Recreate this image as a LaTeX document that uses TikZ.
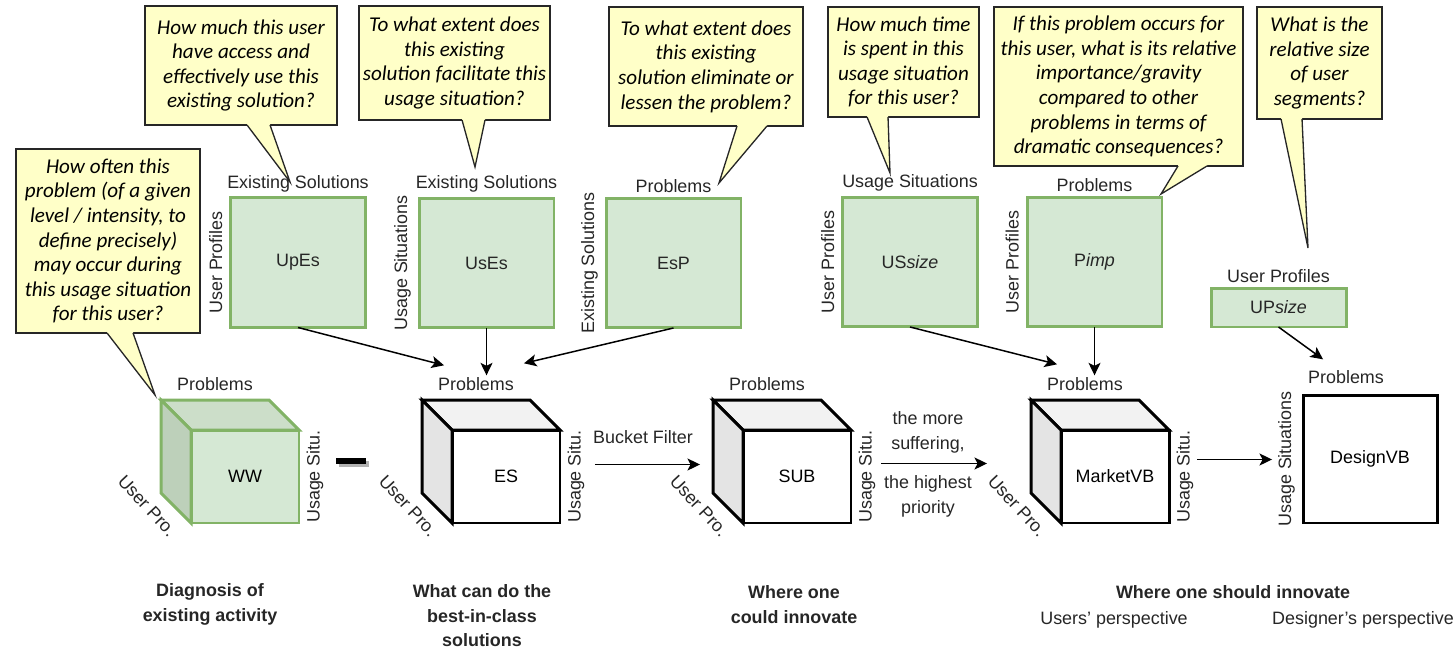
\documentclass[tikz,border=0pt]{standalone}
\usepackage{fontspec}
\setmainfont{Liberation Sans}
\newfontfamily\notefont{Carlito}
\usetikzlibrary{positioning,arrows.meta,calc,shadows}
\definecolor{notefill}{RGB}{255,255,200}
\definecolor{matfill}{RGB}{213,232,212}
\definecolor{matline}{RGB}{130,179,102}
\definecolor{greentop}{RGB}{204,222,201}
\definecolor{greenside}{RGB}{189,208,186}
\definecolor{greytop}{RGB}{242,242,242}
\definecolor{greyside}{RGB}{228,228,228}

% top and left faces of a cube, behind its front node
\newcommand{\cubefaces}[3]{%
  \filldraw[cubeline, draw=#3, fill=#2top] (#1.north west) -- ++(-30,-30) -- ++(108,0) -- (#1.north east) -- cycle;
  \filldraw[cubeline, draw=#3, fill=#2side] (#1.north west) -- ++(-30,-30) -- ++(0,93) -- (#1.south west) -- cycle;}
% tail of a question note: node, left and right foot, tip
\newcommand{\notetail}[4]{%
  \fill[notefill] ($(#1.south west)+(#2,-1.5)$) -- ($(#1.south west)+(#2,0)$) -- (#4) -- ($(#1.south west)+(#3,0)$) -- ($(#1.south west)+(#3,-1.5)$) -- cycle;
  \draw[tailline] ($(#1.south west)+(#2,0)$) -- (#4) -- ($(#1.south west)+(#3,0)$);}

\begin{document}
\begin{tikzpicture}[x=0.02cm, y=-0.02cm,
  lbl/.style={font=\fontsize{10.2}{13.9}\selectfont, text=black!85, inner sep=1pt},
  sidelbl/.style={lbl, rotate=90, anchor=south},
  stage/.style={lbl, font=\bfseries\fontsize{10.2}{13.9}\selectfont, align=center},
  matbox/.style={draw=matline, fill=matfill, line width=1.7pt, outer sep=0pt,
                 minimum width=2.7cm, minimum height=2.6cm, lbl},
  cubefront/.style={draw, fill=white, line width=1.7pt, outer sep=0pt,
                    minimum width=2.16cm, minimum height=1.86cm, lbl, text=black},
  cubeline/.style={line width=1.7pt, line join=miter},
  note/.style={draw=black!85, fill=notefill, line width=0.75pt, outer sep=0pt,
               align=center, inner sep=2pt,
               font=\notefont\itshape\fontsize{12}{14}\selectfont},
  tailline/.style={draw=black!85, line width=0.75pt, line join=miter},
  arr/.style={-{Stealth[length=0.25cm, width=0.24cm, inset=0.06cm]}, line width=0.85pt}
]
\useasboundingbox (0,0) rectangle (1456,649);

% questions
\node[note, minimum width=3.84cm, minimum height=2.38cm] (qUpEs) at (241,65.5)
  {How much this user\\have access and\\effectively use this\\existing solution?};
\node[note, minimum width=3.82cm, minimum height=2.28cm] (qUsEs) at (454.5,63)
  {To what extent does\\this existing\\solution facilitate this\\usage situation?};
\node[note, minimum width=3.88cm, minimum height=2.38cm] (qEsP) at (706,66.5)
  {To what extent does\\this existing\\solution eliminate or\\lessen the problem?};
\node[note, minimum width=3.02cm, minimum height=2.2cm] (qUSsize) at (903.5,62)
  {How much time\\is spent in this\\usage situation\\for this user?};
\node[note, minimum width=4.98cm, minimum height=3.18cm] (qPimp) at (1118.5,86.5)
  {If this problem occurs for\\this user, what is its relative\\importance/gravity\\compared to other\\problems in terms of\\dramatic consequences?};
\node[note, minimum width=2.5cm, minimum height=2.24cm] (qUPsize) at (1319.5,63)
  {What is the\\relative size\\of user\\segments?};
\node[note, minimum width=3.68cm, minimum height=3.68cm] (qWW) at (108,241)
  {How often this\\problem (of a given\\level / intensity, to\\define precisely)\\may occur during\\this usage situation\\for this user?};
\coordinate (tUpEs) at (290,182);
\coordinate (tUsEs) at (475,167);
\coordinate (tEsP) at (719,183);
\coordinate (tUSsize) at (890,173);
\coordinate (tPimp) at (1161,194);
\coordinate (tUPsize) at (1308,248);
\coordinate (tWW) at (155,395);
\notetail{qUpEs}{102}{125}{tUpEs}
\notetail{qUsEs}{103}{126}{tUsEs}
\notetail{qEsP}{128}{158}{tEsP}
\notetail{qUSsize}{39}{60}{tUSsize}
\notetail{qPimp}{184}{213}{tPimp}
\notetail{qUPsize}{24}{45}{tUPsize}
\notetail{qWW}{91}{117}{tWW}

% two-way tables
\node[matbox] (upes) at (298,262.5) {UpEs};
\node[lbl, above=2pt of upes] (upesTop) {Existing Solutions};
\node[sidelbl] (upesSide) at ($(upes.west)+(-6,0)$) {User Profiles};
\node[matbox] (uses) at (486.5,263) {UsEs};
\node[lbl, above=2pt of uses] (usesTop) {Existing Solutions};
\node[sidelbl] (usesSide) at ($(uses.west)+(-6,0)$) {Usage Situations};
\node[matbox] (esp) at (673.5,263) {EsP};
\node[lbl, above=2pt of esp] (espTop) {Problems};
\node[sidelbl] (espSide) at ($(esp.west)+(-6,0)$) {Existing Solutions};
\node[matbox] (ussize) at (910,262) {US\textit{size}};
\node[lbl, above=2pt of ussize] (ussizeTop) {Usage Situations};
\node[sidelbl] (ussizeSide) at ($(ussize.west)+(-6,0)$) {User Profiles};
\node[matbox] (pimp) at (1094.5,262) {P\textit{imp}};
\node[lbl, above=2pt of pimp] (pimpTop) {Problems};
\node[sidelbl] (pimpSide) at ($(pimp.west)+(-6,0)$) {User Profiles};
\node[matbox, minimum height=0.78cm] (upsize) at (1278.5,307.5) {UP\textit{size}};
\node[lbl, above=2pt of upsize] (upsizeTop) {User Profiles};

% cubes
\node[cubefront, draw=matline, fill=matfill] (ww) at (245,476.5) {WW};
\cubefaces{ww}{green}{matline}
\node[cubefront] (es) at (506,476.5) {ES};
\cubefaces{es}{grey}{black}
\node[cubefront] (sub) at (797,476.5) {SUB};
\cubefaces{sub}{grey}{black}
\node[cubefront] (mv) at (1115,476.5) {MarketVB};
\cubefaces{mv}{grey}{black}
\node[cubefront, minimum width=2.68cm, minimum height=2.56cm] (design) at (1370,459) {DesignVB};

\node[lbl] (wwProb) at ($(ww.north)+(-30,-46)$) {Problems};
\node[lbl] (esProb) at ($(es.north)+(-30,-46)$) {Problems};
\node[lbl] (subProb) at ($(sub.north)+(-30,-46)$) {Problems};
\node[lbl] (mvProb) at ($(mv.north)+(-30,-46)$) {Problems};
\node[lbl] (designProb) at ($(design.north)+(-24,-18)$) {Problems};
\node[lbl, rotate=90] (wwUs) at ($(ww.east)+(16,0)$) {Usage Situ.};
\node[lbl, rotate=90] (esUs) at ($(es.east)+(16,0)$) {Usage Situ.};
\node[lbl, rotate=90] (subUs) at ($(sub.east)+(16,0)$) {Usage Situ.};
\node[lbl, rotate=90] (mvUs) at ($(mv.east)+(16,0)$) {Usage Situ.};
\node[sidelbl] (designUs) at ($(design.west)+(-6,0)$) {Usage Situations};
\node[lbl, rotate=-47] (wwUp) at ($(ww.south west)+(-44,-17)$) {User Pro.};
\node[lbl, rotate=-47] (esUp) at ($(es.south west)+(-44,-17)$) {User Pro.};
\node[lbl, rotate=-47] (subUp) at ($(sub.south west)+(-44,-17)$) {User Pro.};
\node[lbl, rotate=-47] (mvUp) at ($(mv.south west)+(-44,-17)$) {User Pro.};

\node[fill=black, minimum width=0.6cm, minimum height=0.12cm, inner sep=0pt,
      drop shadow={shadow xshift=0.06cm, shadow yshift=-0.06cm, fill=black!30, opacity=1}]
  (minus) at (351,461) {};

% flows
\draw[arr] (upes.south) -- ($(esProb.north west)+(8,-10)$);
\draw[arr] (uses.south) -- (uses.south |- esProb.north);
\draw[arr] (esp.south) -- ($(esProb.north east)+(8,-12)$);
\draw[arr] (ussize.south) -- ($(mvProb.north west)+(12,-11)$);
\draw[arr] (pimp.south) -- (pimp.south |- mvProb.north);
\draw[arr] (upsize.south) -- ($(designProb.north west)+(17,-9)$);
\draw[arr] ($(es.east)+(35,-12)$) -- ($(sub.west)+(-43,-12)$);
\draw[arr] ($(sub.east)+(30,-13)$) -- ($(mv.west)+(-74,-13)$);
\draw[arr] ($(mv.east)+(28,-17)$) -- ($(design.west)+(-31,0.5)$);
\node[lbl] (bucket) at (643,437) {Bucket Filter};
\node[lbl, align=center] (suffer) at (928,432.5) {the more\\suffering,};
\node[lbl, align=center] (priority) at (928,496.5) {the highest\\priority};

% stages
\node[stage] (diag) at (210,604.5) {Diagnosis of\\existing activity};
\node[stage] (best) at (482,616) {What can do the\\best-in-class\\solutions};
\node[stage] (could) at (794,604.5) {Where one\\could innovate};
\node[stage] (should) at (1233,592) {Where one should innovate};
\node[lbl] (users) at (1114,620) {Users' perspective};
\node[lbl] (designer) at (1363,620) {Designer's perspective};
\end{tikzpicture}
\end{document}
